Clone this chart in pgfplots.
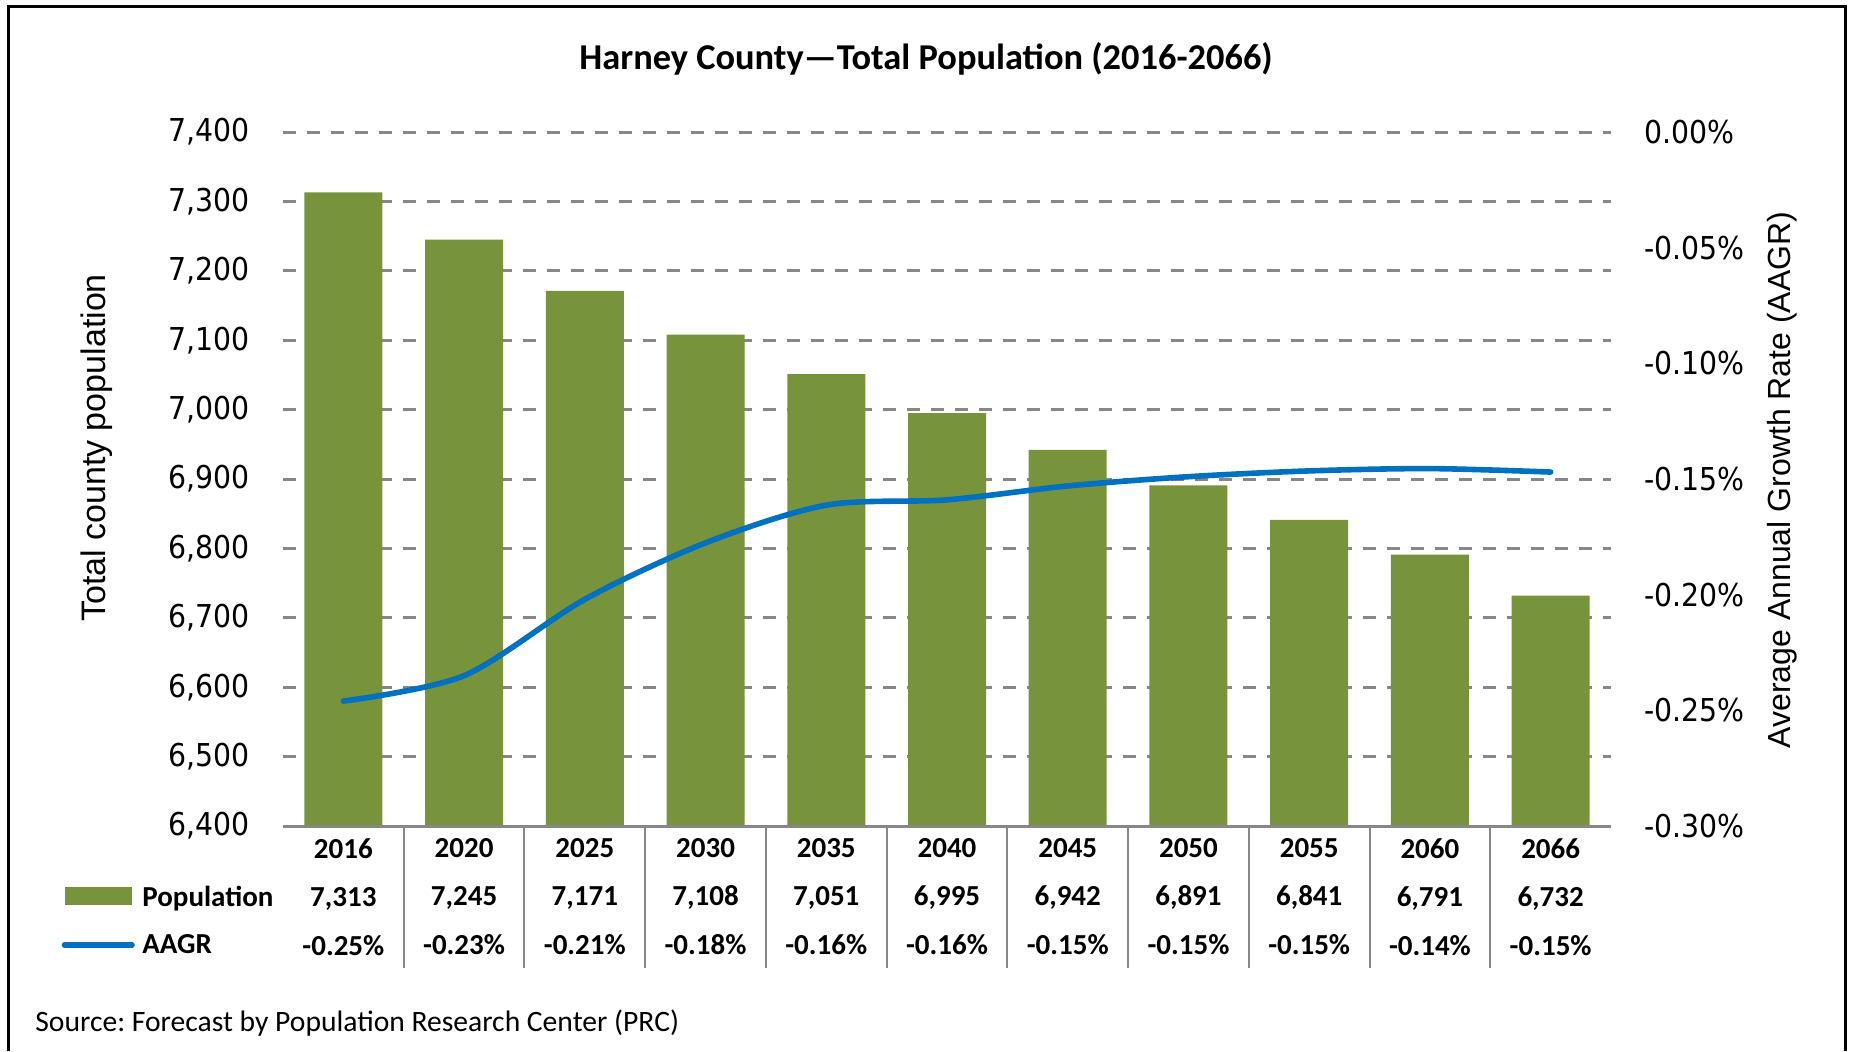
\documentclass[border=0pt]{standalone}
\usepackage{pgfplots}
\pgfplotsset{compat=1.18}
\usepackage{fontspec}
\setmainfont{Carlito}
\newfontfamily\arialf{Liberation Sans}
\newfontfamily\tickf[FakeStretch=0.9]{DejaVu Sans}
\definecolor{barg}{HTML}{77933C}
\definecolor{lineb}{HTML}{0070C0}
\definecolor{gridg}{HTML}{878787}
\frenchspacing
\begin{document}
\begin{tikzpicture}
\draw[line width=1.5pt] (4pt,0pt) -- (4pt,522.25pt) -- (922.5pt,522.25pt) -- (922.5pt,0pt);
\begin{axis}[
  at={(141.5pt,112.5pt)}, anchor=south west,
  scale only axis, width=664pt, height=347pt,
  xmin=-0.5, xmax=10.5, ymin=6400, ymax=7400,
  axis line style={draw=none},
  major tick length=0pt,
  xtick={0,1,2,3,4,5,6,7,8,9,10},
  xticklabels={{2016\\7,313\\-0.25\%},{2020\\7,245\\-0.23\%},{2025\\7,171\\-0.21\%},{2030\\7,108\\-0.18\%},{2035\\7,051\\-0.16\%},{2040\\6,995\\-0.16\%},{2045\\6,942\\-0.15\%},{2050\\6,891\\-0.15\%},{2055\\6,841\\-0.15\%},{2060\\6,791\\-0.14\%},{2066\\6,732\\-0.15\%}},
  xticklabel style={align=center, anchor=north, inner sep=0pt, yshift=-5.9pt, font=\fontsize{14.5}{24.25}\selectfont\bfseries},
  ytick={6400,6500,6600,6700,6800,6900,7000,7100,7200,7300,7400},
  yticklabels={{6,400},{6,500},{6,600},{6,700},{6,800},{6,900},{7,000},{7,100},{7,200},{7,300},{7,400}},
  yticklabel style={anchor=east, inner sep=0pt, xshift=-16.5pt, font=\tickf\fontsize{15.75}{18}\selectfont},
  ymajorgrids,
  major grid style={gridg, line width=1.5pt, dash pattern=on 6.5pt off 5.5pt},
  after end axis/.code={
    \draw[gridg, line width=1.5pt] (rel axis cs:0,0) -- (rel axis cs:1,0);
    \foreach \i in {0.5,1.5,...,9.5} {\draw[gridg, line width=1pt] (axis cs:\i,6400) -- ++(0pt,-71pt);}
  },
]
\addplot[ybar, bar width=0.646, bar shift=0pt, fill=barg, draw=none] coordinates {
  (0,7313) (1,7245) (2,7171) (3,7108) (4,7051) (5,6995) (6,6942) (7,6891) (8,6841) (9,6791) (10,6732)};
\end{axis}
\begin{axis}[
  at={(141.5pt,112.5pt)}, anchor=south west,
  scale only axis, width=664pt, height=347pt,
  xmin=-0.5, xmax=10.5, ymin=-0.30, ymax=0,
  axis line style={draw=none},
  major tick length=0pt,
  xtick=\empty,
  ytick={-0.3,-0.25,-0.2,-0.15,-0.1,-0.05,0},
  yticklabels={-0.30\%,-0.25\%,-0.20\%,-0.15\%,-0.10\%,-0.05\%,0.00\%},
  yticklabel pos=right,
  yticklabel style={anchor=west, inner sep=0pt, xshift=16.5pt, font=\tickf\fontsize{15.75}{18}\selectfont},
]
\addplot[lineb, line width=2.8pt, smooth, line cap=round] coordinates {
  (0,-0.246) (1,-0.235) (2,-0.202) (3,-0.1776) (4,-0.1613) (5,-0.159) (6,-0.153) (7,-0.149) (8,-0.1465) (9,-0.1455) (10,-0.147)};
\end{axis}
\node[anchor=base, inner sep=0pt, font=\fontsize{18.2}{21}\selectfont\bfseries] at (463pt,490.6pt) {Harney County—Total Population (2016-2066)};
\node[rotate=90, inner sep=0pt, font=\arialf\fontsize{17}{20}\selectfont] at (48.5pt,301.5pt) {Total county population};
\node[rotate=90, inner sep=0pt, font=\arialf\fontsize{16}{19}\selectfont] at (891pt,285.5pt) {Average Annual Growth Rate (AAGR)};
\fill[barg] (32.5pt,73pt) rectangle (66pt,82pt);
\draw[lineb, line width=2.8pt, line cap=round] (32.25pt,53pt) -- (66pt,53pt);
\node[anchor=base west, inner sep=0pt, font=\fontsize{14.5}{17}\selectfont\bfseries] at (71pt,72.35pt) {Population};
\node[anchor=base west, inner sep=0pt, font=\fontsize{14.5}{17}\selectfont\bfseries] at (71pt,48.85pt) {AAGR};
\node[anchor=base west, inner sep=0pt, font=\fontsize{14.8}{17}\selectfont] at (17.5pt,10pt) {Source: Forecast by Population Research Center (PRC)};
\pgfresetboundingbox
\path[use as bounding box] (0pt,0pt) rectangle (925pt,525.5pt);
\end{tikzpicture}
\end{document}
